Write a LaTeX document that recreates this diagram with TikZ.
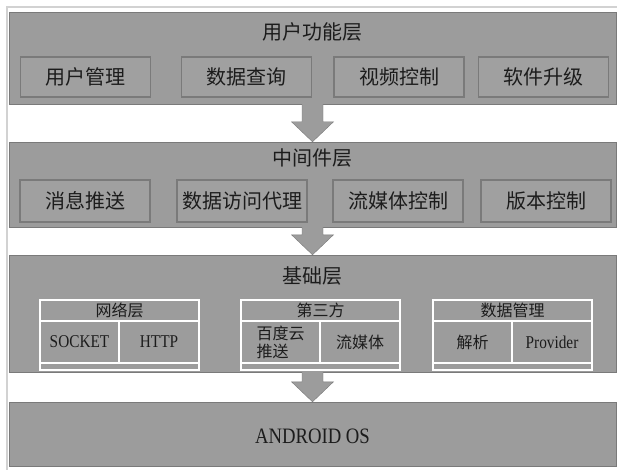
\documentclass[tikz,border=0pt]{standalone}
\usepackage{fontspec}
\setmainfont{Noto Sans CJK SC}
\newfontfamily\latin[FakeStretch=0.85]{Liberation Serif}
\usetikzlibrary{calc,positioning}
\definecolor{bandgray}{HTML}{9C9C9C}
\definecolor{boxgray}{HTML}{A0A0A0}
\definecolor{edgegray}{HTML}{7A7A7A}
\definecolor{inkgray}{HTML}{1C1C1C}
\begin{document}
\begin{tikzpicture}[x=1pt,y=-1pt,font=\fontsize{20}{24}\selectfont,text=inkgray,
  band/.style={draw=edgegray,fill=bandgray,minimum width=607pt,inner sep=0pt},
  func/.style={draw=edgegray,line width=1.2pt,fill=boxgray,minimum width=130pt,inner sep=0pt},
  thead/.style={draw=white,line width=1.2pt,outer sep=0pt,minimum height=21pt,inner sep=0pt,font=\fontsize{16}{18}\selectfont},
  tcell/.style={draw=white,line width=1.2pt,outer sep=0pt,minimum height=42pt,inner sep=0pt,align=left,font=\fontsize{16}{18}\selectfont},
  tfoot/.style={draw=white,line width=1.2pt,outer sep=0pt,minimum height=7pt,inner sep=0pt},
  flow/.style={draw=edgegray,fill=bandgray,line join=miter}]
\useasboundingbox[fill=white] (0,0) rectangle (617,470);
\draw[gray!35,line width=1.5pt] (7,470)--(7,7)--(617,7);
\node[band,minimum height=92pt] (l1) at (312.5,58) {};
\node[band,minimum height=85pt] (l2) at (312.5,184.5) {};
\node[band,minimum height=117pt] (l3) at (312.5,313.5) {};
\node[band,minimum height=64pt] (l4) at (312.5,434) {};
\node (t1) at (312.5,32) {用户功能层};
\node (t2) at (312.5,158) {中间件层};
\node (t3) at (312.5,276) {基础层};
\node[font=\latin\fontsize{22}{26}\selectfont] (t4) at (312.5,436) {ANDROID OS};
\foreach \x/\t [count=\i] in {85.5/用户管理,246.5/数据查询,399/视频控制,543.5/软件升级}
  \node[func,minimum height=40pt] (a\i) at (\x,77) {\t};
\foreach \x/\t [count=\i] in {85/消息推送,242/数据访问代理,398/流媒体控制,546/版本控制}
  \node[func,minimum height=42pt] (b\i) at (\x,201) {\t};
\foreach \n/\x/\hd/\ca/\cb in {1/40/网络层/{\latin\fontsize{18}{20}\selectfont SOCKET}/{\latin\fontsize{18}{20}\selectfont HTTP},2/241/第三方/{百度云\\推送}/流媒体,3/433/数据管理/解析/{\latin\fontsize{18}{20}\selectfont Provider}}{
  \node[thead,minimum width=159pt,anchor=north west] (h\n) at (\x,300) {\hd};
  \node[tcell,minimum width=79pt,anchor=north west] (p\n) at (h\n.south west) {\ca};
  \node[tcell,minimum width=80pt,anchor=north west] (q\n) at (p\n.north east) {\cb};
  \node[tfoot,minimum width=159pt,anchor=north west] (f\n) at (p\n.south west) {};
}
\foreach \a/\b in {l1/l2,l2/l3,l3/l4}
  \draw[flow] ($(\a.south)+(-10.5,0)$) -- ($(\b.north)+(-10.5,-20)$) -- ($(\b.north)+(-21,-20)$)
    -- (\b.north) -- ($(\b.north)+(21,-20)$) -- ($(\b.north)+(10.5,-20)$) -- ($(\a.south)+(10.5,0)$);
\end{tikzpicture}
\end{document}
